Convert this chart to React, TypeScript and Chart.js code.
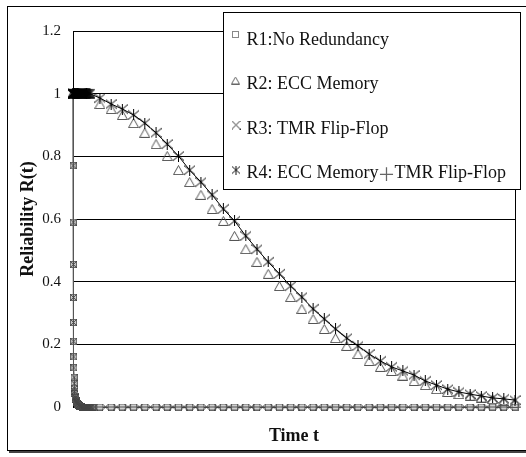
import React, { useEffect, useRef } from "react";
import { Chart, registerables } from "chart.js";

Chart.register(...registerables);

const SERIF = "'Liberation Serif', 'Times New Roman', serif";

// ---- data ----
const timeFine = [0, 0.1, 0.2, 0.3, 0.4, 0.5, 0.6, 0.7, 0.8, 0.9, 1, 1.5, 2, 2.5, 3, 3.5, 4, 5, 6, 7, 8, 9, 10, 11, 12, 13, 14, 15];
const timeDrop = [0, 0.1, 0.2, 0.3, 0.4, 0.5, 0.6, 0.7, 0.8, 0.9, 1, 1.25, 1.5, 1.75, 2, 2.25, 2.5, 2.75, 3, 3.25, 3.5, 3.75, 4, 4.5, 5, 5.5, 6, 6.5, 7, 7.5, 8, 8.5, 9, 9.5, 10, 10.5, 11, 11.5, 12, 12.5, 13, 13.5, 14, 14.5, 15, 15.5, 16, 16.5, 17];
const timeMain = [24, 34, 44, 54, 64, 74, 84, 94, 104, 114, 124, 134, 144, 154, 164, 174, 184, 194, 204, 214, 224, 234, 244, 254, 264, 274, 284, 294, 304, 314, 324, 334, 344, 354, 364, 374, 384, 394];
const timeHalf = [19, 29, 39, 49, 59, 69, 79, 89, 99, 109, 119, 129, 139, 149, 159, 169, 179, 189, 199, 209, 219, 229, 239, 249, 259, 269, 279, 289, 299, 309, 319, 329, 339, 349, 359, 369, 379, 389];

const r1Drop = [1, 0.77, 0.59, 0.455, 0.35, 0.27, 0.21, 0.16, 0.125, 0.095, 0.075, 0.06, 0.05, 0.042, 0.035, 0.03, 0.025, 0.021, 0.018, 0.015, 0.013, 0.011, 0.009, 0.007, 0.005, 0.004, 0.003, 0.0025, 0.002, 0.0015, 0.001, 0, 0, 0, 0, 0, 0, 0, 0, 0, 0, 0, 0, 0, 0, 0, 0, 0, 0];
const r1Main = [0, 0, 0, 0, 0, 0, 0, 0, 0, 0, 0, 0, 0, 0, 0, 0, 0, 0, 0, 0, 0, 0, 0, 0, 0, 0, 0, 0, 0, 0, 0, 0, 0, 0, 0, 0, 0, 0];

const r2Fine = [1, 1, 1, 1, 1, 1, 1, 1, 1, 1, 1, 1, 1, 1, 1, 1, 1, 1, 1, 1, 1, 1, 1, 1, 1, 1, 1, 1];
const r2Main = [0.967, 0.951, 0.932, 0.906, 0.875, 0.839, 0.801, 0.756, 0.718, 0.677, 0.632, 0.594, 0.546, 0.504, 0.463, 0.425, 0.386, 0.351, 0.313, 0.281, 0.249, 0.22, 0.195, 0.169, 0.147, 0.128, 0.115, 0.1, 0.083, 0.07, 0.057, 0.048, 0.041, 0.036, 0.03, 0.025, 0.019, 0.013];

const r3Drop = [1, 0.77, 0.59, 0.455, 0.35, 0.27, 0.21, 0.16, 0.125, 0.095, 0.075, 0.06, 0.05, 0.042, 0.035, 0.03, 0.025, 0.021, 0.018, 0.015, 0.013, 0.011, 0.009, 0.007, 0.005, 0.004, 0.003, 0.0025, 0.002, 0.0015, 0.001, 0, 0, 0, 0, 0, 0, 0, 0, 0, 0, 0, 0, 0, 0, 0, 0, 0, 0];
const r3Main = [0, 0, 0, 0, 0, 0, 0, 0, 0, 0, 0, 0, 0, 0, 0, 0, 0, 0, 0, 0, 0, 0, 0, 0, 0, 0, 0, 0, 0, 0, 0, 0, 0, 0, 0, 0, 0, 0];

const r4Fine = [1, 1, 1, 1, 1, 1, 1, 1, 1, 1, 1, 1, 1, 1, 1, 1, 1, 1, 1, 1, 1, 1, 1, 1, 1, 1, 1, 1];
const r4Main = [0.986, 0.967, 0.951, 0.932, 0.906, 0.875, 0.839, 0.801, 0.756, 0.718, 0.677, 0.632, 0.594, 0.546, 0.504, 0.463, 0.425, 0.386, 0.351, 0.313, 0.281, 0.249, 0.22, 0.195, 0.169, 0.147, 0.128, 0.115, 0.102, 0.083, 0.07, 0.057, 0.048, 0.041, 0.035, 0.029, 0.026, 0.022];

const yTicks = [0, 0.2, 0.4, 0.6, 0.8, 1, 1.2];
const yTickLabels = ["0", "0.2", "0.4", "0.6", "0.8", "1", "1.2"];

const seriesLabels = ["R1:No Redundancy", "R2: ECC Memory", "R3: TMR Flip-Flop", "R4: ECC Memory"];
const r4LabelJoin = "＋";
const r4LabelTail = "TMR Flip-Flop";
const xTitle = "Time t";
const yTitle = "Reliability R(t)";

// ---- markers ----
function makeCanvas(w: number, h: number, draw: (ctx: CanvasRenderingContext2D) => void) {
  const c = document.createElement("canvas");
  c.width = w;
  c.height = h;
  const ctx = c.getContext("2d")!;
  draw(ctx);
  return c;
}
const squareMarker = (s: number, stroke: string, fill?: string) =>
  makeCanvas(s, s, (ctx) => {
    if (fill) {
      ctx.fillStyle = fill;
      ctx.fillRect(1, 1, s - 2, s - 2);
    }
    ctx.strokeStyle = stroke;
    ctx.lineWidth = 1;
    ctx.strokeRect(0.5, 0.5, s - 1, s - 1);
  });
const triangleMarker = (w: number, h: number, stroke: string) =>
  makeCanvas(w, h, (ctx) => {
    ctx.strokeStyle = stroke;
    ctx.lineWidth = 1;
    ctx.beginPath();
    ctx.moveTo(w / 2, 0.5);
    ctx.lineTo(w - 0.5, h - 0.5);
    ctx.lineTo(0.5, h - 0.5);
    ctx.closePath();
    ctx.stroke();
  });
const crossMarker = (s: number, stroke: string) =>
  makeCanvas(s, s, (ctx) => {
    ctx.strokeStyle = stroke;
    ctx.lineWidth = 1;
    ctx.beginPath();
    ctx.moveTo(0, 0);
    ctx.lineTo(s, s);
    ctx.moveTo(s, 0);
    ctx.lineTo(0, s);
    ctx.stroke();
  });
const asteriskMarker = (w: number, h: number, stroke: string) =>
  makeCanvas(w, h, (ctx) => {
    ctx.strokeStyle = stroke;
    ctx.lineWidth = 1;
    ctx.beginPath();
    ctx.moveTo(0, 1);
    ctx.lineTo(w, h - 1);
    ctx.moveTo(w, 1);
    ctx.lineTo(0, h - 1);
    ctx.moveTo(w / 2, 0);
    ctx.lineTo(w / 2, h);
    ctx.stroke();
  });

function pts(xs: number[], ys: number[]) {
  return xs.map((x, i) => ({ x, y: ys[i] }));
}

export default function App() {
  const ref = useRef<HTMLCanvasElement>(null);

  useEffect(() => {
    const canvas = ref.current;
    if (!canvas) return;

    const mSquare = squareMarker(7, "#666", "#cfcfcf");
    const mTri = triangleMarker(11, 10, "#555");
    const mCross = crossMarker(7, "#444");
    const mAst = asteriskMarker(11, 11, "#000");

    const lSquare = squareMarker(7, "#888");
    const lTri = triangleMarker(9, 8, "#666");
    const lCross = crossMarker(9, "#333");
    const lAst = asteriskMarker(8, 9, "#111");

    const framePlugin = {
      id: "frame",
      beforeDraw(chart: any) {
        const ctx = chart.ctx;
        ctx.save();
        ctx.fillStyle = "#fff";
        ctx.fillRect(0, 0, chart.width, chart.height);
        ctx.fillStyle = "#444";
        ctx.fillRect(9, 451, 517, 2);
        ctx.strokeStyle = "#000";
        ctx.lineWidth = 1;
        ctx.strokeRect(7.5, 6.5, 530, 444);
        ctx.restore();
      },
      beforeDatasetsDraw(chart: any) {
        const { ctx, chartArea } = chart;
        ctx.save();
        ctx.strokeStyle = "#000";
        ctx.lineWidth = 1;
        ctx.beginPath();
        ctx.moveTo(Math.round(chartArea.right) + 0.5, chartArea.top);
        ctx.lineTo(Math.round(chartArea.right) + 0.5, chartArea.bottom);
        ctx.stroke();
        ctx.restore();
      },
      afterDraw(chart: any) {
        const ctx = chart.ctx;
        ctx.save();
        ctx.fillStyle = "#fff";
        ctx.fillRect(223, 12, 298, 178);
        ctx.strokeStyle = "#000";
        ctx.lineWidth = 1;
        ctx.strokeRect(223.5, 12.5, 297, 177);
        const markers = [
          { c: lSquare, x: 235.5, y: 34.5 },
          { c: lTri, x: 235.5, y: 80.5 },
          { c: lCross, x: 236, y: 125 },
          { c: lAst, x: 236, y: 170 },
        ];
        const baselines = [45, 89, 134, 178];
        seriesLabels.forEach((lab, i) => {
          const m = markers[i];
          ctx.drawImage(m.c, m.x - m.c.width / 2, m.y - m.c.height / 2);
          ctx.font = `18px ${SERIF}`;
          ctx.fillStyle = "#111";
          ctx.textAlign = "left";
          ctx.textBaseline = "alphabetic";
          ctx.fillText(lab, 246.5, baselines[i]);
          if (i === 3) {
            const w1 = ctx.measureText(lab).width;
            ctx.font = `18px 'Noto Sans CJK SC', sans-serif`;
            ctx.fillStyle = "#666";
            ctx.textBaseline = "middle";
            const px = 246.5 + w1;
            ctx.fillText(r4LabelJoin, px - 1, 174);
            const pw = ctx.measureText(r4LabelJoin).width;
            ctx.font = `18px ${SERIF}`;
            ctx.fillStyle = "#111";
            ctx.textBaseline = "alphabetic";
            ctx.fillText(r4LabelTail, px + pw - 2, baselines[i]);
          }
        });
        ctx.restore();
      },
    };

    const chart = new Chart(canvas, {
      type: "scatter",
      data: {
        datasets: [
          {
            label: seriesLabels[0],
            data: pts(timeDrop.concat(timeMain), r1Drop.concat(r1Main)),
            showLine: true,
            borderColor: "#777",
            borderWidth: 1,
            pointStyle: mSquare as any,
            pointRadius: 4,
            clip: false as any,
            order: 3,
          },
          {
            label: seriesLabels[1],
            data: pts(timeFine.concat(timeMain), r2Fine.concat(r2Main)),
            showLine: false,
            borderColor: "#555",
            pointStyle: mTri as any,
            pointRadius: 5,
            clip: false as any,
            order: 2,
          },
          {
            label: seriesLabels[2],
            data: pts(timeDrop.concat(timeHalf), r3Drop.concat(r3Main)),
            showLine: true,
            borderColor: "#555",
            borderWidth: 1,
            pointStyle: mCross as any,
            pointRadius: 4,
            clip: false as any,
            order: 1,
          },
          {
            label: seriesLabels[3],
            data: pts(timeFine.concat(timeMain), r4Fine.concat(r4Main)),
            showLine: true,
            borderColor: "#000",
            borderWidth: 1,
            pointStyle: mAst as any,
            pointRadius: 5,
            clip: false as any,
            order: 0,
          },
        ],
      },
      options: {
        animation: false,
        responsive: false,
        devicePixelRatio: 1,
        events: [],
        layout: { padding: { left: 0, top: 31, right: 11, bottom: 0 } },
        plugins: { legend: { display: false }, tooltip: { enabled: false } },
        scales: {
          x: {
            type: "linear",
            min: 0,
            max: 394,
            ticks: { display: false },
            grid: { display: false, drawTicks: false },
            border: { display: true, color: "#000" },
            title: {
              display: true,
              text: xTitle,
              color: "#111",
              font: { family: SERIF, size: 18, weight: "bold" },
              padding: { top: 0, bottom: 10 },
            },
            afterFit: (s: any) => {
              s.height = 50;
            },
          },
          y: {
            type: "linear",
            min: 0,
            max: 1.2,
            afterBuildTicks: (s: any) => {
              s.ticks = yTicks.map((v) => ({ value: v }));
            },
            ticks: {
              padding: 12,
              color: "#111",
              font: { family: SERIF, size: 15 },
              callback: (_v: any, i: number) => yTickLabels[i],
            },
            grid: { color: "#000", lineWidth: 1, drawTicks: false },
            border: { display: true, color: "#000" },
            title: {
              display: true,
              text: yTitle,
              color: "#111",
              font: { family: SERIF, size: 18, weight: "bold" },
              padding: { top: 18, bottom: 0 },
            },
            afterFit: (s: any) => {
              s.width = 73;
            },
          },
        },
      },
      plugins: [framePlugin],
    } as any);

    return () => chart.destroy();
  }, []);

  return (
    <div style={{ position: "fixed", left: 0, top: 0, width: 526, height: 457, background: "#fff" }}>
      <canvas ref={ref} width={526} height={457} style={{ display: "block", width: 526, height: 457 }} />
    </div>
  );
}
